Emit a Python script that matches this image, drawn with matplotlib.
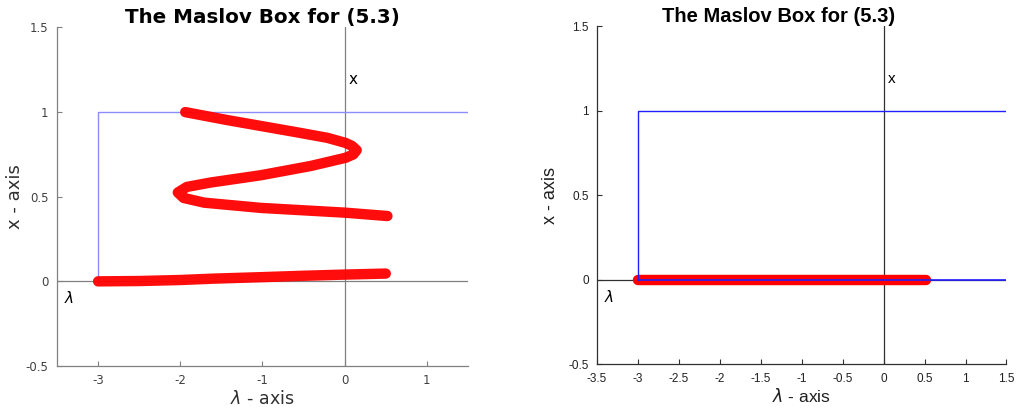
import matplotlib.pyplot as plt

# curve points (lambda, x)
lam_low = [-3.0, -2.5, -2.0, -1.6, -1.0, -0.5, 0.0, 0.5]
x_low = [0.0, 0.002, 0.008, 0.016, 0.025, 0.033, 0.04, 0.046]

lam_up = [0.52, 0.0, -1.02, -1.71, -1.96, -2.03, -1.92, -1.63, -1.02, -0.41,
          0.01, 0.105, 0.146, 0.09, 0.01, -0.21, -0.62, -1.43, -1.94]
x_up = [0.386, 0.406, 0.434, 0.465, 0.493, 0.525, 0.558, 0.584, 0.627, 0.682,
        0.73, 0.75, 0.775, 0.80, 0.818, 0.848, 0.884, 0.953, 1.0]

# right panel: flat curve on x = 0
lam_flat = [-3.0, -2.0, -1.0, 0.0, 0.52]
x_flat = [0.0, 0.0, 0.0, 0.0, 0.0]

title = 'The Maslov Box for (5.3)'

fig = plt.figure(figsize=(10.16, 4.15), dpi=100)
ax1 = fig.add_axes([0.0561, 0.1181, 0.4045, 0.8157])
ax2 = fig.add_axes([0.5876, 0.1222, 0.4030, 0.8151])


def box(ax, axcol, bluecol, tickcol, font, xticks):
    ax.set_xlim(-3.5, 1.5)
    ax.set_ylim(-0.5, 1.5)
    ax.axhline(0, color=axcol, lw=0.9, zorder=1)
    ax.axvline(0, color=axcol, lw=0.9, zorder=1)
    ax.plot([-3, -3, 1.5], [0, 1, 1], color=bluecol, lw=1.0, zorder=2)
    ax.set_xticks(xticks)
    ax.set_xticklabels([('%g' % t) for t in xticks], family=font)
    ax.set_yticks([-0.5, 0, 0.5, 1, 1.5])
    ax.set_yticklabels(['-0.5', '0', '0.5', '1', '1.5'], family=font)
    ax.tick_params(direction='in', length=3.5, width=0.8, colors=axcol,
                   labelcolor=tickcol, labelsize=8.5, pad=6)
    for s in ['top', 'right']:
        ax.spines[s].set_visible(False)
    for s in ['left', 'bottom']:
        ax.spines[s].set_color(axcol)
        ax.spines[s].set_linewidth(0.9)
    ax.text(0.05, 1.165, 'x', fontsize=11, color='black', family=font)
    ax.text(-3.42, -0.13, r'$\lambda$', fontsize=11, color='black')


# left panel
box(ax1, '#808080', '#8c8cff', '#404040', 'DejaVu Sans', [-3, -2, -1, 0, 1])
ax1.plot(lam_low, x_low, color='red', lw=7.5, solid_capstyle='round',
         solid_joinstyle='round', alpha=0.95, zorder=3)
ax1.plot(lam_up, x_up, color='red', lw=7.5, solid_capstyle='round',
         solid_joinstyle='round', alpha=0.95, zorder=3)
ax1.set_title(title, fontsize=14.3, fontweight='bold', pad=3)
ax1.set_xlabel(r'$\lambda$ - axis', fontsize=12.5, color='#303030', labelpad=2)
ax1.set_ylabel('x - axis', fontsize=13, color='#303030', labelpad=1)

# right panel
box(ax2, '#303030', '#2020ff', '#202020', 'Liberation Sans',
    [-3.5, -3, -2.5, -2, -1.5, -1, -0.5, 0, 0.5, 1, 1.5])
ax2.plot(lam_flat, x_flat, color='red', lw=7.5, solid_capstyle='round', zorder=1.5)
ax2.plot([-3, 1.5], [0, 0], color='#2020ff', lw=1.2, zorder=2)
ax2.set_title(title, fontsize=14.5, fontweight='bold', family='Liberation Sans', x=0.444, pad=3)
ax2.set_xlabel(r'$\lambda$ - axis', fontsize=12.5, color='#202020', family='Liberation Sans', labelpad=2)
ax2.set_ylabel('x - axis', fontsize=13, color='#202020', family='Liberation Sans', labelpad=7)

fig.savefig('out.png', dpi=100)
